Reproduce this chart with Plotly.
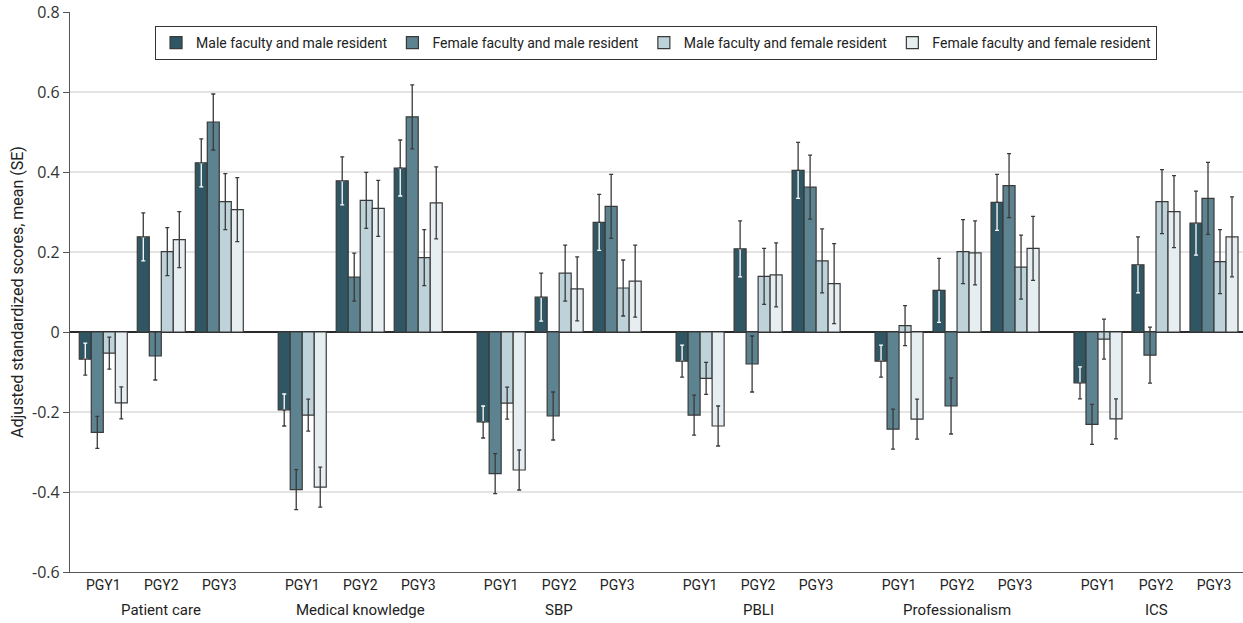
import plotly.graph_objects as go

competencies = ["Patient care", "Medical knowledge", "SBP", "PBLI", "Professionalism", "ICS"]
years = ["PGY1", "PGY2", "PGY3"]
series_names = ["Male faculty and male resident", "Female faculty and male resident",
                "Male faculty and female resident", "Female faculty and female resident"]

mm = [-0.068, 0.238, 0.423, -0.195, 0.378, 0.410, -0.225, 0.087, 0.274,
      -0.073, 0.208, 0.404, -0.073, 0.104, 0.324, -0.127, 0.168, 0.272]
mm_se = [0.04, 0.06, 0.06, 0.04, 0.06, 0.07, 0.04, 0.06, 0.07,
         0.04, 0.07, 0.07, 0.04, 0.08, 0.07, 0.04, 0.07, 0.08]
fm = [-0.251, -0.060, 0.525, -0.394, 0.137, 0.538, -0.354, -0.210, 0.314,
      -0.208, -0.080, 0.362, -0.243, -0.185, 0.366, -0.231, -0.058, 0.334]
fm_se = [0.04, 0.06, 0.07, 0.05, 0.06, 0.08, 0.05, 0.06, 0.08,
         0.05, 0.07, 0.08, 0.05, 0.07, 0.08, 0.05, 0.07, 0.09]
mf = [-0.053, 0.201, 0.326, -0.208, 0.329, 0.186, -0.178, 0.147, 0.110,
      -0.116, 0.139, 0.178, 0.016, 0.201, 0.162, -0.018, 0.326, 0.176]
mf_se = [0.04, 0.06, 0.07, 0.04, 0.07, 0.07, 0.04, 0.07, 0.07,
         0.04, 0.07, 0.08, 0.05, 0.08, 0.08, 0.05, 0.08, 0.08]
ff = [-0.177, 0.231, 0.306, -0.388, 0.309, 0.323, -0.345, 0.108, 0.127,
      -0.235, 0.143, 0.121, -0.218, 0.198, 0.209, -0.217, 0.301, 0.238]
ff_se = [0.04, 0.07, 0.08, 0.05, 0.07, 0.09, 0.05, 0.08, 0.09,
         0.05, 0.08, 0.10, 0.05, 0.08, 0.08, 0.05, 0.09, 0.10]

y_ticks = [-0.6, -0.4, -0.2, 0, 0.2, 0.4, 0.6, 0.8]
y_tick_text = ["-0.6", "-0.4", "-0.2", "0", "0.2", "0.4", "0.6", "0.8"]

colors = ["#2f5662", "#5d8390", "#bed2da", "#e6eef1"]
GROUP_PERIOD = 3.43
FONT = "Roboto, Lato, sans-serif"

xpos = [g * GROUP_PERIOD + k for g in range(len(competencies)) for k in range(len(years))]
xlabels = [years[k] for g in range(len(competencies)) for k in range(len(years))]

fig = go.Figure()
err_color = "#3a3a3a"
outline = "#3a3a3a"

def add_bar(vals, se, name, color, group, show_err=True):
    fig.add_trace(go.Bar(
        x=xpos, y=vals, name=name, offsetgroup=group,
        marker=dict(color=color, line=dict(color=outline, width=1.2)),
        error_y=dict(type="data", array=se, visible=show_err, color=err_color,
                     thickness=1.3, width=2),
        hoverinfo="y",
    ))

# Male faculty / male resident: dark bar, white inner error segment, dark outer segment
add_bar(mm, mm_se, series_names[0], colors[0], "1", show_err=False)
inner_up = [s if v < 0 else 0 for v, s in zip(mm, mm_se)]
inner_dn = [0 if v < 0 else s for v, s in zip(mm, mm_se)]
outer_up = [0 if v < 0 else s for v, s in zip(mm, mm_se)]
outer_dn = [s if v < 0 else 0 for v, s in zip(mm, mm_se)]
fig.add_trace(go.Bar(
    x=xpos, y=mm, offsetgroup="1", showlegend=False, hoverinfo="skip",
    marker=dict(color="rgba(0,0,0,0)", line=dict(width=0)),
    error_y=dict(type="data", symmetric=False, array=inner_up, arrayminus=inner_dn,
                 color="white", thickness=1.3, width=2),
))
fig.add_trace(go.Bar(
    x=xpos, y=mm, offsetgroup="1", showlegend=False, hoverinfo="skip",
    marker=dict(color="rgba(0,0,0,0)", line=dict(width=0)),
    error_y=dict(type="data", symmetric=False, array=outer_up, arrayminus=outer_dn,
                 color=err_color, thickness=1.3, width=2),
))
add_bar(fm, fm_se, series_names[1], colors[1], "2")
add_bar(mf, mf_se, series_names[2], colors[2], "3")
add_bar(ff, ff_se, series_names[3], colors[3], "4")

for g, comp in enumerate(competencies):
    fig.add_annotation(x=g * GROUP_PERIOD + 1, y=-0.068, xref="x", yref="paper",
                       text=comp, showarrow=False, yanchor="middle",
                       font=dict(family=FONT, size=15, color="#222"))

fig.update_layout(
    width=1243, height=623,
    margin=dict(l=70, r=0, t=12, b=51),
    paper_bgcolor="white", plot_bgcolor="white",
    barmode="group", bargap=0.172, bargroupgap=0,
    font=dict(family=FONT, size=14, color="#222"),
    legend=dict(orientation="h", x=0.0725, y=0.975, xanchor="left", yanchor="top",
                bordercolor="#333", borderwidth=1, bgcolor="white",
                font=dict(family=FONT, size=14, color="#222"),
                traceorder="normal"),
    xaxis=dict(range=[-0.574, 19.65], tickvals=xpos, ticktext=xlabels,
               showgrid=False, zeroline=False, showline=True, linecolor="#555",
               linewidth=1.2, ticks="", tickfont=dict(family=FONT, size=14, color="#222")),
    yaxis=dict(range=[-0.6, 0.8], tickvals=y_ticks, ticktext=y_tick_text,
               showgrid=True, gridcolor="#e4e4e4", gridwidth=1.5,
               zeroline=True, zerolinecolor="#2a2a2a", zerolinewidth=1.5,
               showline=True, linecolor="#555", linewidth=1.2,
               ticks="outside", ticklen=6, tickcolor="#555",
               tickfont=dict(family="Open Sans, DejaVu Sans, sans-serif", size=16, color="#333"),
               title=dict(text="Adjusted standardized scores, mean (SE)", standoff=4,
                          font=dict(family=FONT, size=16, color="#222"))),
)

fig.write_html("out.html", config={"displayModeBar": False},
               post_script="document.body.style.margin='0px';")
